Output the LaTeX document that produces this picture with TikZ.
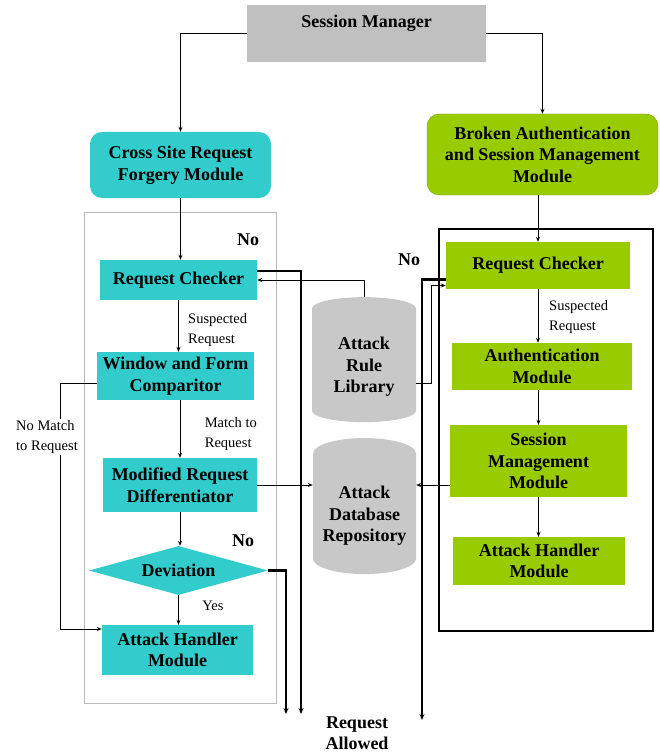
\documentclass[tikz,border=0pt]{standalone}
\usepackage{fontspec}
\setmainfont{Liberation Serif}
\usetikzlibrary{shapes.geometric,arrows.meta}
\definecolor{csrfcyan}{HTML}{33CCCC}
\definecolor{basmgreen}{HTML}{99CC00}
\definecolor{smgray}{HTML}{C0C0C0}
\definecolor{dbgray}{HTML}{C8C8C8}

\begin{document}
\begin{tikzpicture}[
  x=1pt, y=-1pt,
  every node/.style={font=\fontsize{18}{21.5}\selectfont\bfseries, align=center, inner sep=2pt},
  cyanbox/.style={fill=csrfcyan},
  greenbox/.style={fill=basmgreen},
  db/.style={cylinder, shape border rotate=90, aspect=0.35, fill=dbgray},
  note/.style={font=\fontsize{14.5}{19.5}\selectfont, align=left},
  arr/.style={-{Stealth[length=5pt,width=4pt]}, line width=0.9pt},
  bigarr/.style={-{Stealth[length=6pt,width=5pt]}, line width=2.2pt}
]
\useasboundingbox (0,0) rectangle (659,754);

% frames round the two modules
\draw[gray!55, line width=1pt] (84,212) rectangle (276,703);
\draw[line width=1.2pt] (439,229) rectangle (653,631);

\node[fill=smgray, minimum width=239pt, text height=21pt, text depth=32pt] (sm) at (366.5,33.5) {Session Manager};
\node[cyanbox, rounded corners=12pt, minimum width=181pt, minimum height=66pt] (csrf) at (180.5,165) {Cross Site Request\\Forgery Module};
\node[greenbox, draw=basmgreen!80!black, rounded corners=12pt, minimum width=231pt, minimum height=81pt] (basm) at (542.5,154.5) {Broken Authentication\\and Session Management\\Module};

% left column
\node[cyanbox, minimum width=157pt, minimum height=40pt] (lchk) at (178.5,280) {Request Checker};
\node[cyanbox, minimum width=157pt, minimum height=48pt] (wfc) at (175.5,376) {Window and Form\\Comparitor};
\node[cyanbox, minimum width=154pt, minimum height=54pt] (mrd) at (180,485) {Modified Request\\Differentiator};
\node[cyanbox, diamond, aspect=3.65, minimum width=179pt, minimum height=49pt, inner sep=0pt] (dev) at (178.5,570.5) {Deviation};
\node[cyanbox, minimum width=151pt, minimum height=50pt] (lahm) at (177.5,650) {Attack Handler\\Module};

% right column
\node[greenbox, minimum width=184pt, minimum height=47pt] (rchk) at (538,265.5) {Request Checker};
\node[greenbox, minimum width=180pt, minimum height=47pt] (auth) at (542,366.5) {Authentication\\Module};
\node[greenbox, minimum width=177pt, minimum height=72pt] (smm) at (538.5,461) {Session\\Management\\Module};
\node[greenbox, minimum width=172pt, minimum height=48pt] (rahm) at (539,561) {Attack Handler\\Module};

% databases
\node[db, minimum width=104pt, minimum height=125pt] (arl) at (364,367) {Attack\\Rule\\Library};
\node[db, minimum width=103pt, minimum height=136pt] (adr) at (364.5,516) {Attack\\Database\\Repository};

\coordinate (outD) at (286,714);
\coordinate (outL) at (301,714);
\coordinate (outR) at (422,720);

\draw[arr] (sm.west) -| (csrf.north);
\draw[arr] (sm.east) -| (basm.north);
\draw[arr] (csrf.south) -- (csrf.south |- lchk.north);
\draw[arr] (lchk.south) -- (lchk.south |- wfc.north);
\draw[arr] (wfc.south -| mrd.north) -- (mrd.north);
\draw[arr] (mrd.south) -- (mrd.south |- dev.north);
\draw[arr] (dev.south) -- (dev.south |- lahm.north);
\draw[arr] ([yshift=-7pt]wfc.west) -- ++(-36,0) |- ([yshift=21pt]lahm.west);
\draw[bigarr] ([yshift=9pt]lchk.east) -| (outL);
\draw[bigarr] (dev.east) -| (outD);
\draw[arr] (arl.north) |- (lchk.east);
\draw[arr] ([yshift=-16pt]arl.east) -- ++(15,0) |- ([yshift=-20pt]rchk.west);
\draw[bigarr] ([yshift=-14pt]rchk.west) -| (outR);
\draw[arr] (mrd.east) -- (mrd.east -| adr.west);
\draw[arr] (smm.west |- mrd.east) -- (adr.east |- mrd.east);
\draw[arr] (rchk.north |- basm.south) -- (rchk.north);
\draw[arr] (rchk.south) -- (rchk.south |- auth.north);
\draw[arr] (auth.south -| smm.north) -- (smm.north);
\draw[arr] (smm.south) -- (smm.south |- rahm.north);

% labels
\node (no1) at (248,240) {No};
\node (no2) at (409,260) {No};
\node (no3) at (243,541) {No};
\node (allowed) at (357,733) {Request\\Allowed};
\node[note, anchor=west] (sus1) at (186,330) {Suspected\\Request};
\node[note, anchor=west] (sus2) at (547,317) {Suspected\\Request};
\node[note, anchor=east] (mt) at (259,434) {Match to\\Request};
\node[note, anchor=west, fill=white] (nomt) at (14,437) {No Match\\to Request};
\node[note] (yes) at (213,606) {Yes};
\end{tikzpicture}
\end{document}
